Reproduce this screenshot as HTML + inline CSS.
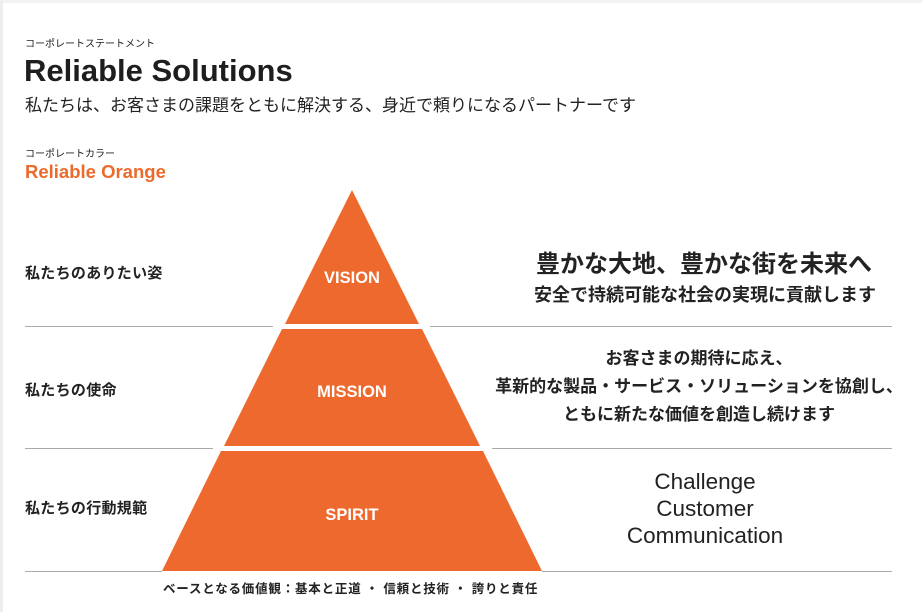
<!DOCTYPE html>
<html><head><meta charset="utf-8"><style>
body{margin:0;width:922px;height:612px;background:#fff;overflow:hidden;position:relative;font-family:"Liberation Sans","Noto Sans CJK JP",sans-serif;color:#222}
.t{position:absolute;white-space:nowrap}
.c{transform:translateX(-50%);text-align:center}
</style></head><body>
<div style="position:absolute;left:0;top:0;width:922px;height:3px;background:#f2f2f2"></div>
<div style="position:absolute;left:0;top:0;width:3px;height:612px;background:#eee"></div>
<div class="t" style="left:25px;top:35px;font-size:10px">コーポレートステートメント</div>
<div class="t" style="left:24px;top:53px;font-size:31px;font-weight:bold;color:#1e1e1e">Reliable Solutions</div>
<div class="t" style="left:25px;top:91px;font-size:17px">私たちは、お客さまの課題をともに解決する、身近で頼りになるパートナーです</div>
<div class="t" style="left:25px;top:145px;font-size:10px">コーポレートカラー</div>
<div class="t" style="left:25px;top:161px;font-size:18.5px;font-weight:bold;color:#ec6a2c">Reliable Orange</div>
<svg style="position:absolute;left:0;top:0" width="922" height="612">
<g stroke="#aaa" stroke-width="1">
<line x1="25" y1="326.5" x2="273" y2="326.5"/><line x1="430" y1="326.5" x2="892" y2="326.5"/>
<line x1="25" y1="448.5" x2="213" y2="448.5"/><line x1="492" y1="448.5" x2="892" y2="448.5"/>
<line x1="25" y1="571.5" x2="162" y2="571.5"/><line x1="542" y1="571.5" x2="892" y2="571.5"/>
</g>
<g fill="#ed692e">
<polygon points="352,190 419,324 285,324"/>
<polygon points="282,329 422,329 480,446 224,446"/>
<polygon points="221,451 483,451 542,571 162,571"/>
</g>
<g fill="#fff" font-family="Liberation Sans,sans-serif" font-weight="bold" font-size="16.5" text-anchor="middle">
<text x="352" y="283">VISION</text><text x="352" y="397">MISSION</text><text x="352" y="520">SPIRIT</text>
</g>
</svg>
<div class="t" style="left:25px;top:262px;font-size:15px;font-weight:bold;letter-spacing:0.3px">私たちのありたい姿</div>
<div class="t" style="left:25px;top:379px;font-size:15px;font-weight:bold;letter-spacing:0.3px">私たちの使命</div>
<div class="t" style="left:25px;top:497px;font-size:15px;font-weight:bold;letter-spacing:0.3px">私たちの行動規範</div>
<div class="t c" style="left:704px;top:244px;font-size:24px;font-weight:bold">豊かな大地、豊かな街を未来へ</div>
<div class="t c" style="left:705px;top:281px;font-size:18px;font-weight:bold">安全で持続可能な社会の実現に貢献します</div>
<div class="t c" style="left:699px;top:345px;font-size:17px;line-height:28px;font-weight:bold">お客さまの期待に応え、<br>革新的な製品・サービス・ソリューションを協創し、<br>ともに新たな価値を創造し続けます</div>
<div class="t c" style="left:705px;top:468px;font-size:22.5px;line-height:27px">Challenge<br>Customer<br>Communication</div>
<div class="t" style="left:163px;top:578px;font-size:12.5px;font-weight:bold;letter-spacing:0.8px">ベースとなる価値観：基本と正道 ・ 信頼と技術 ・ 誇りと責任</div>
</body></html>
